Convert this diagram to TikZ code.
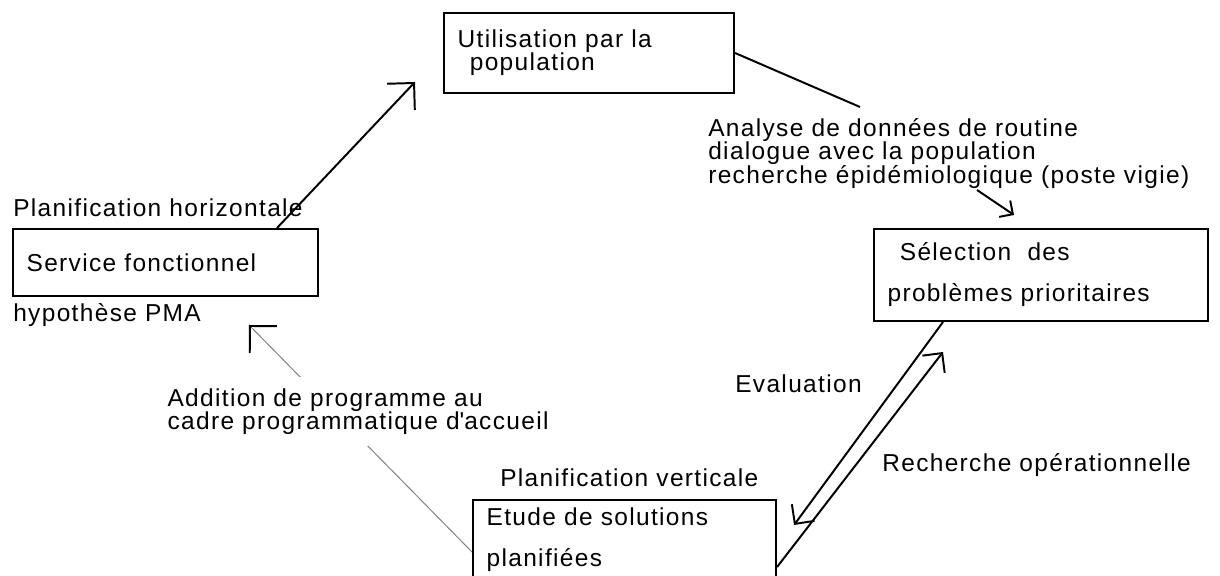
\documentclass[tikz,border=0pt]{standalone}
\usepackage{fontspec}
\setmainfont{Liberation Sans}[LetterSpace=5.5]
\usetikzlibrary{arrows.meta}
\usetikzlibrary{backgrounds}
\usetikzlibrary{calc}
\usetikzlibrary{positioning}

\begin{document}
\begin{tikzpicture}[
  x=0.025cm, y=-0.025cm,
  every node/.style={font=\fontsize{17.4pt}{16.4pt}\selectfont},
  flowLine/.style={draw, line width=1.4pt},
  % addLine/.style={draw=gray, thin},
  addLine/.style={draw=black!50, line width=0.7pt},
]

\tikzset{
  stageBox/.style={
    draw, line width=1.4pt, rectangle, anchor=north west,
    inner xsep=0.34cm, inner ysep=0pt, align=left
  },
  flowNote/.style={inner sep=0pt, align=left},
  openTip/.style 2 args={-{Straight Barb[length=#1, width=#2]}}
}

\useasboundingbox (0,0) rectangle (1220,576);
\clip (0,0) rectangle (1220,576);

% --- Stages ---
\node [stageBox, minimum width=7.25cm, minimum height=2cm, text width=6.57cm] (util) at (443,12)
  {Utilisation par la\\\hspace*{0.5em}population};
\node [stageBox, minimum width=8.35cm, minimum height=2.3cm, text width=7.67cm,
  font=\fontsize{17.4pt}{29.2pt}\selectfont] (sel) at (873,228)
  {\hspace*{0.5em}Sélection\ \ des\\problèmes prioritaires};
\node [stageBox, minimum width=7.625cm, minimum height=1.675cm, text width=6.945cm] (serv) at (12,228)
  {Service fonctionnel};
\node [stageBox, minimum width=7.575cm, minimum height=2cm, text width=6.895cm,
  font=\fontsize{17.4pt}{29.2pt}\selectfont] (etude) at (472,499)
  {Etude de solutions\\planifiées};

% --- Labels ---
\node [flowNote, anchor=base west] (planH) at (13,217) {Planification horizontale};
\node [flowNote, anchor=base west] (pma) at (13,322) {hypothèse PMA};
\node [flowNote, anchor=north west] (ana) at (708,118)
  {Analyse de données de routine\\dialogue avec la population\\recherche épidémiologique (poste vigie)};
\node [flowNote, anchor=base west] (planV) at (500,486) {Planification verticale};
\node [flowNote, anchor=base west] (eval) at (735,392) {Evaluation};
\node [flowNote, anchor=base west] (rech) at (882,471) {Recherche opérationnelle};
\node [flowNote, anchor=north west, inner sep=8pt, fill=white] (add) at (156,377)
  {Addition de programme au\\cadre programmatique d\textquotesingle accueil};

% --- Connectors, kept behind the labels ---
\begin{pgfonlayer}{background}
\coordinate (servOut) at ($(serv.north west)+(265,0)$);
\coordinate (utilIn) at ($(util.south west)+(-28,-12)$);
\coordinate (anaIn) at ($(ana.north west)+(152,-11)$);
\coordinate (anaOut) at ($(ana.north west)+(269,72)$);
\coordinate (selIn) at ($(sel.north west)+(141,-13)$);
\coordinate (selOut) at ($(sel.south west)+(70,0)$);
\coordinate (selBack) at ($(sel.south west)+(70,30)$);
\coordinate (etudeIn) at ($(etude.north east)+(17,26)$);
\coordinate (etudeOut) at ($(etude.north east)+(0,68)$);
\coordinate (etudeWest) at ($(etude.north west)+(0,53)$);
\coordinate (servIn) at ($(serv.south west)+(237,28)$);

\draw [flowLine, openTip={13.5pt}{27pt}] (servOut) -- (utilIn);
\draw [flowLine] (util.east) -- (anaIn);
\draw [flowLine, openTip={7pt}{14pt}] (anaOut) -- (selIn);
\draw [flowLine, openTip={10pt}{20pt}] (selOut) -- (etudeIn);
\draw [flowLine, openTip={10pt}{20pt}] (etudeOut) -- (selBack);
\draw [addLine, -{Straight Barb[length=13.5pt, width=27pt, color=black, line width=1.4pt]}]
  (etudeWest) -- (servIn);
\end{pgfonlayer}

\end{tikzpicture}
\end{document}
